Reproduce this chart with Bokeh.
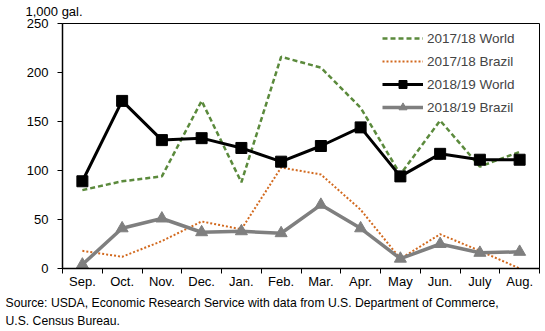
from bokeh.plotting import figure
from bokeh.models import Range1d, FixedTicker, Title, Legend, LegendItem, LinearAxis
from bokeh.embed import file_html
from bokeh.resources import INLINE

months = ["Sep.", "Oct.", "Nov.", "Dec.", "Jan.", "Feb.", "Mar.", "Apr.", "May", "Jun.", "July", "Aug."]
world_1718 = [80, 89, 94, 171, 88, 216, 205, 164, 96, 151, 104, 119]
brazil_1718 = [18, 12, 28, 48, 40, 103, 96, 60, 10, 35, 18, 0]
world_1819 = [89, 171, 131, 133, 123, 109, 125, 144, 94, 117, 111, 111]
brazil_1819 = [4, 41, 51, 37, 38, 36, 65, 41, 10, 25, 16, 17]
y_ticks = [0, 50, 100, 150, 200, 250]

x = list(range(1, len(months) + 1))
bounds = [i + 0.5 for i in range(0, len(months) + 1)]
FONT = "Liberation Sans"

p = figure(width=545, height=331, output_backend="svg", toolbar_location=None,
           x_range=Range1d(0.5, 12.5), y_range=Range1d(0, 250),
           min_border_left=62, min_border_right=6, min_border_top=22, min_border_bottom=63)
p.grid.visible = False
p.outline_line_color = "black"
p.outline_line_width = 1
p.background_fill_color = "white"
p.border_fill_color = "white"

# title (unit label)
p.title.text = "1,000 gal."
p.title.align = "left"
p.title.vertical_align = "top"
p.title.offset = -37
p.title.standoff = 6
p.title.text_font = FONT
p.title.text_font_size = "13px"
p.title.text_font_style = "normal"
p.title.text_color = "black"

# x axis 1: boundary ticks
xa = p.xaxis[0]
xa.ticker = FixedTicker(ticks=bounds)
xa.major_label_overrides = {b: "" for b in bounds}
xa.major_label_text_font_size = "1px"
xa.major_label_standoff = 0
xa.major_tick_line_color = "black"
xa.major_tick_out = 5
xa.major_tick_in = 0
xa.minor_tick_line_color = None
xa.axis_line_color = "black"
xa.axis_line_width = 1.5

# x axis 2: month labels
xa2 = LinearAxis(ticker=FixedTicker(ticks=x),
                 major_label_overrides={i: m for i, m in zip(x, months)})
xa2.axis_line_color = None
xa2.major_tick_line_color = None
xa2.minor_tick_line_color = None
xa2.major_tick_out = 0
xa2.major_tick_in = 0
xa2.major_label_text_font = FONT
xa2.major_label_text_font_size = "13px"
xa2.major_label_text_color = "black"
xa2.major_label_standoff = 0
p.add_layout(xa2, "below")

# y axis
ya = p.yaxis[0]
ya.ticker = FixedTicker(ticks=y_ticks)
ya.major_tick_line_color = "black"
ya.minor_tick_line_color = None
ya.major_tick_out = 5
ya.major_tick_in = 0
ya.axis_line_color = "black"
ya.axis_line_width = 1.5
ya.major_label_text_font = FONT
ya.major_label_text_font_size = "13px"
ya.major_label_text_color = "black"
ya.major_label_standoff = 9

green = "#5B8A3C"
orange = "#D2691E"
grey = "#7F7F7F"

r1 = p.line(x, world_1718, line_color=green, line_width=2.5, line_dash="5 3")
r2 = p.line(x, brazil_1718, line_color=orange, line_width=2, line_dash="2 2")
r3 = p.line(x, world_1819, line_color="black", line_width=3)
r3m = p.scatter(x, world_1819, marker="square", size=11, fill_color="black", line_color="black")
r4 = p.line(x, brazil_1819, line_color=grey, line_width=3.5)
r4m = p.scatter(x, brazil_1819, marker="triangle", size=12, fill_color=grey, line_color=grey)

legend = Legend(items=[
    LegendItem(label="2017/18 World", renderers=[r1]),
    LegendItem(label="2017/18 Brazil", renderers=[r2]),
    LegendItem(label="2018/19 World", renderers=[r3, r3m]),
    LegendItem(label="2018/19 Brazil", renderers=[r4, r4m]),
], location=(320, 151), padding=0, margin=0, spacing=3, glyph_width=41, glyph_height=20,
   label_standoff=4, label_text_font=FONT, label_text_font_size="13.5px",
   border_line_color=None, background_fill_alpha=0)
p.add_layout(legend)

src1 = Title(text="Source: USDA, Economic Research Service with data from U.S. Department of Commerce,",
             align="left", offset=-57, standoff=4, text_font=FONT, text_font_size="12.2px",
             text_font_style="normal", text_color="black")
src2 = Title(text="U.S. Census Bureau.",
             align="left", offset=-57, standoff=0, text_font=FONT, text_font_size="12.2px",
             text_font_style="normal", text_color="black")
p.add_layout(src1, "below")
p.add_layout(src2, "below")

open("out.html", "w").write(file_html(p, INLINE))
